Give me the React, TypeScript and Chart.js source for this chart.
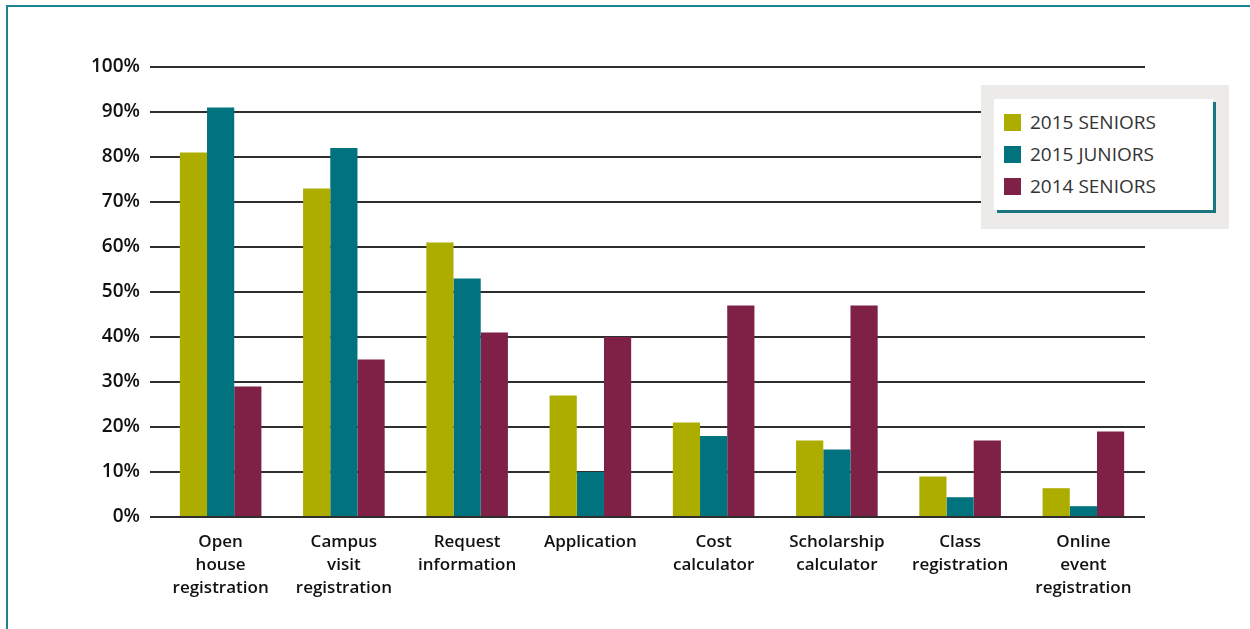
import React, { useEffect, useRef } from "react";
import { Chart, registerables } from "chart.js";

Chart.register(...registerables);

const categories: string[][] = [
  ["Open", "house", "registration"],
  ["Campus", "visit", "registration"],
  ["Request", "information"],
  ["Application"],
  ["Cost", "calculator"],
  ["Scholarship", "calculator"],
  ["Class", "registration"],
  ["Online", "event", "registration"],
];
const seniors2015 = [81, 73, 61, 27, 21, 17, 9, 6.4];
const juniors2015 = [91, 82, 53, 10, 18, 15, 4.4, 2.4];
const seniors2014 = [29, 35, 41, 40, 47, 47, 17, 19];
const seriesLabels = ["2015 SENIORS", "2015 JUNIORS", "2014 SENIORS"];
const seriesColors = ["#ADAD00", "#00737F", "#7F2146"];
const yMin = 0;
const yMax = 100;
const yStep = 10;

export default function App() {
  const ref = useRef<HTMLCanvasElement | null>(null);

  useEffect(() => {
    if (!ref.current) return;
    const seriesValues = [seniors2015, juniors2015, seniors2014];
    const chart = new Chart(ref.current, {
      type: "bar",
      data: {
        labels: categories,
        datasets: seriesLabels.map((label, i) => ({
          label,
          data: seriesValues[i],
          backgroundColor: seriesColors[i],
          borderWidth: 0,
          categoryPercentage: 0.662,
          barPercentage: 1,
        })),
      },
      options: {
        animation: false,
        responsive: false,
        maintainAspectRatio: false,
        devicePixelRatio: 1,
        layout: { padding: { left: 0, right: 105, top: 67, bottom: 0 } },
        plugins: {
          legend: { display: false },
          tooltip: { enabled: false },
        },
        scales: {
          x: {
            grid: { display: false, drawTicks: false },
            border: { display: false },
            ticks: {
              color: "#111",
              padding: 14,
              maxRotation: 0,
              autoSkip: false,
              font: { family: "'Open Sans', sans-serif", size: 17, weight: 600, lineHeight: 1.35 },
            },
            afterFit: (scale: any) => {
              scale.height = 112;
            },
          },
          y: {
            min: yMin,
            max: yMax,
            grid: {
              color: "#2e2e2e",
              lineWidth: 2,
              drawTicks: true,
              tickLength: 9,
              tickColor: "#2e2e2e",
              tickWidth: 2,
            },
            border: { display: false },
            ticks: {
              stepSize: yStep,
              color: "#111",
              padding: 10,
              font: { family: "'Open Sans', sans-serif", size: 19, weight: 600 },
              callback: (v: any) => `${v}%`,
            },
            afterFit: (scale: any) => {
              scale.width = 159;
            },
          },
        },
      },
    });
    return () => chart.destroy();
  }, []);

  return (
    <div
      style={{
        position: "absolute",
        left: 0,
        top: 0,
        width: 1250,
        height: 629,
        overflow: "hidden",
        background: "#fff",
      }}
    >
      <canvas
        ref={ref}
        width={1250}
        height={629}
        style={{ position: "absolute", left: 0, top: 0, width: 1250, height: 629 }}
      />
      <div
        style={{
          position: "absolute",
          left: 6,
          top: 5,
          width: 1300,
          height: 700,
          borderTop: "2px solid #1E8390",
          borderLeft: "2px solid #1E8390",
          boxSizing: "border-box",
        }}
      />
      <div
        style={{
          position: "absolute",
          left: 981,
          top: 85,
          width: 248,
          height: 144,
          background: "#ECEBE9",
        }}
      >
        <div
          style={{
            position: "absolute",
            left: 13,
            top: 14,
            width: 219,
            height: 111,
            background: "#fff",
            boxShadow: "3px 3px 0 #1C7680",
          }}
        >
          {seriesLabels.map((label, i) => (
            <div
              key={label}
              style={{
                position: "absolute",
                left: 10,
                top: 14 + i * 32,
                height: 18,
                display: "flex",
                alignItems: "center",
              }}
            >
              <div style={{ width: 17, height: 17, background: seriesColors[i] }} />
              <span
                style={{
                  marginLeft: 9,
                  fontFamily: "'Open Sans', sans-serif",
                  fontSize: 19,
                  fontWeight: 400,
                  color: "#333",
                  whiteSpace: "nowrap",
                  lineHeight: "18px",
                }}
              >
                {label}
              </span>
            </div>
          ))}
        </div>
      </div>
    </div>
  );
}
